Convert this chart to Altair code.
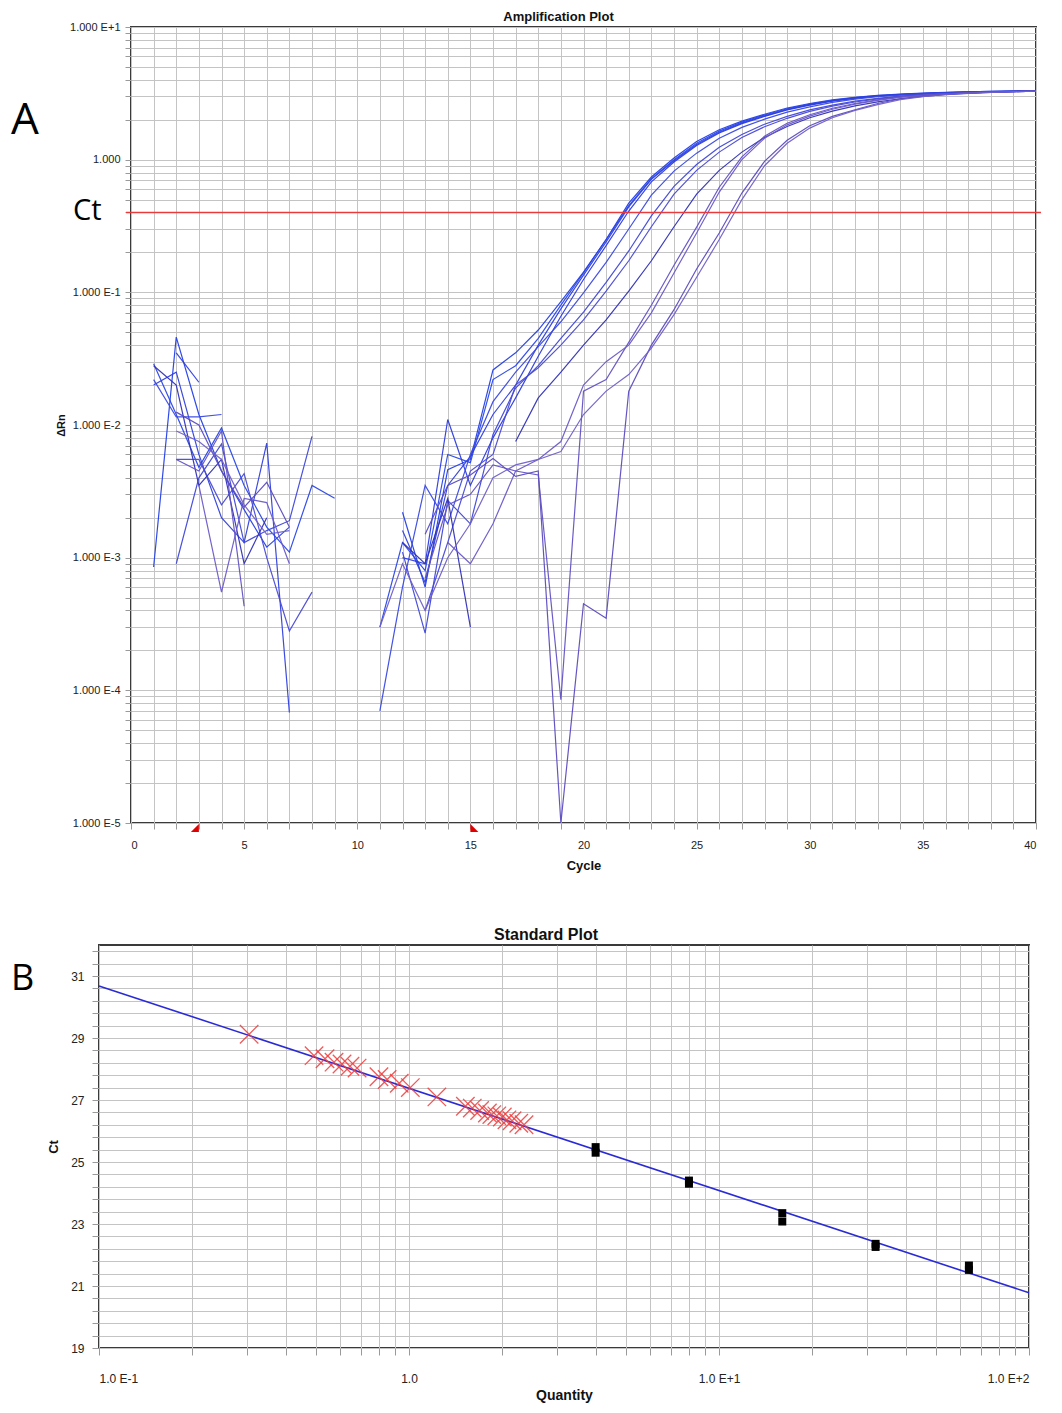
import altair as alt
import pandas as pd

# ---------------- Panel A: amplification curves (delta Rn per cycle) ----------------
cycles = list(range(1, 41))
curve_names = ["C1", "C2", "C3", "C4", "C5", "C6", "C7", "C8", "C9", "C10", "C11", "C12"]
curve_colors = ["#2440e6", "#2a48e8", "#3040dd", "#2c3ce0", "#3a4ae0", "#4048d8",
                "#4a4ad6", "#3232b8", "#6252c4", "#6a5ac8", "#5c4cc0", "#7060c8"]

C1 = [0.00085, 0.046, 0.012, 0.0045, 0.0023, 0.0012, 0.0017, None, None, None,
      None, 0.0022, 0.0006, 0.0046, 0.0055, 0.026, 0.035, 0.052, 0.085, 0.142,
      0.25, 0.47, 0.74, 1.03, 1.37, 1.68, 1.95, 2.20, 2.45, 2.65,
      2.82, 2.95, 3.05, 3.12, 3.17, 3.21, 3.24, 3.27, 3.29, 3.31]
C2 = [0.029, 0.012, 0.0048, 0.0095, 0.0035, 0.0017, 0.0011, 0.0035, 0.0028, None,
      0.0003, 0.0013, 0.0008, 0.006, 0.0052, 0.022, 0.028, 0.045, 0.080, 0.140,
      0.25, 0.45, 0.72, 1.00, 1.33, 1.64, 1.92, 2.17, 2.42, 2.62,
      2.80, 2.94, 3.04, 3.11, 3.16, 3.20, 3.24, 3.27, 3.29, 3.31]
C3 = [0.020, 0.025, 0.006, 0.002, 0.0013, 0.0073, 0.000068, None, None, None,
      None, 0.0016, 0.00065, 0.0035, 0.0058, 0.012, 0.020, 0.040, 0.075, 0.135,
      0.24, 0.44, 0.71, 0.98, 1.30, 1.61, 1.89, 2.14, 2.39, 2.60,
      2.78, 2.92, 3.02, 3.10, 3.15, 3.20, 3.23, 3.26, 3.28, 3.30]
C4 = [None, 0.035, 0.021, None, None, None, None, None, None, None,
      None, 0.0010, 0.0009, 0.011, 0.0035, 0.008, 0.016, 0.033, 0.066, 0.125,
      0.225, 0.41, 0.68, 0.96, 1.28, 1.59, 1.87, 2.12, 2.37, 2.58,
      2.76, 2.90, 3.01, 3.09, 3.15, 3.19, 3.23, 3.26, 3.28, 3.30]
C5 = [0.022, 0.0115, 0.0115, 0.012, None, None, None, None, None, None,
      0.00007, 0.0006, 0.0035, 0.0018, 0.006, 0.015, 0.025, 0.039, 0.060, 0.099,
      0.168, 0.30, 0.54, 0.82, 1.12, 1.45, 1.75, 2.02, 2.28, 2.50,
      2.70, 2.86, 2.98, 3.07, 3.13, 3.18, 3.22, 3.25, 3.28, 3.30]
C6 = [None, 0.0009, 0.004, 0.0072, 0.0013, 0.0016, 0.0019, 0.0082, None, None,
      None, 0.0011, 0.00027, 0.0027, 0.0018, 0.0085, 0.019, 0.028, 0.045, 0.071,
      0.119, 0.205, 0.377, 0.63, 0.92, 1.24, 1.55, 1.85, 2.12, 2.37,
      2.58, 2.76, 2.90, 3.01, 3.09, 3.15, 3.20, 3.24, 3.27, 3.29]
C7 = [None, 0.0055, 0.0055, 0.0025, 0.0043, 0.0010, 0.00028, 0.00055, None, None,
      None, None, 0.0004, 0.0013, 0.0045, 0.0060, 0.020, 0.027, 0.040, 0.062,
      0.102, 0.173, 0.312, 0.55, 0.83, 1.14, 1.47, 1.77, 2.05, 2.31,
      2.53, 2.72, 2.87, 2.99, 3.08, 3.14, 3.19, 3.23, 3.26, 3.29]
C8 = [0.028, 0.020, 0.0035, 0.0055, 0.0009, 0.0020, None, None, None, None,
      None, 0.0013, 0.0009, 0.0028, 0.0003, None, 0.0075, 0.016, 0.025, 0.040,
      0.062, 0.102, 0.173, 0.312, 0.55, 0.83, 1.14, 1.47, 1.78, 2.07,
      2.32, 2.54, 2.73, 2.88, 3.00, 3.09, 3.16, 3.21, 3.25, 3.28]
C9 = [None, 0.0055, 0.0045, 0.009, 0.00043, None, None, None, None, None,
      None, None, 0.0007, 0.0025, 0.0030, 0.0050, 0.0045, 0.0042, 0.000085, 0.018,
      0.022, 0.042, 0.080, 0.16, 0.31, 0.62, 1.05, 1.50, 1.88, 2.18,
      2.44, 2.65, 2.83, 2.97, 3.07, 3.14, 3.19, 3.23, 3.26, 3.28]
C10 = [None, None, 0.0035, 0.00055, 0.0028, 0.0026, 0.0009, None, None, None,
       None, None, None, 0.0013, 0.0009, 0.0018, 0.0045, 0.0055, 0.0075, 0.020,
       0.030, 0.040, 0.070, 0.14, 0.28, 0.57, 1.00, 1.45, 1.83, 2.13,
       2.40, 2.62, 2.80, 2.95, 3.06, 3.13, 3.19, 3.23, 3.26, 3.28]
C11 = [None, 0.0125, 0.010, 0.0045, 0.0024, 0.0037, 0.0017, None, None, None,
       None, None, 0.0015, 0.0035, 0.0042, 0.0056, 0.0041, 0.0045, 0.00001, 0.00045,
       0.00035, 0.018, 0.040, 0.074, 0.15, 0.28, 0.56, 0.97, 1.40, 1.80,
       2.12, 2.38, 2.65, 2.87, 3.02, 3.12, 3.19, 3.24, 3.27, 3.29]
C12 = [None, 0.009, 0.0075, 0.0055, 0.0025, 0.0015, 0.0016, None, None, None,
       0.0003, 0.0009, 0.0004, 0.0010, 0.0018, 0.0040, 0.0050, 0.0055, 0.0063, 0.012,
       0.018, 0.024, 0.038, 0.068, 0.13, 0.25, 0.50, 0.90, 1.33, 1.73,
       2.07, 2.35, 2.60, 2.83, 2.99, 3.10, 3.17, 3.22, 3.26, 3.28]
curves = [C1, C2, C3, C4, C5, C6, C7, C8, C9, C10, C11, C12]

ct_threshold = 0.4
ct_line_x = [-0.22, 40.22]
baseline_cycles = [3, 15]

# ---------------- Panel B: standard curve ----------------
unk_q = [0.305, 0.494, 0.536, 0.573, 0.608, 0.645, 0.680, 0.80, 0.85, 0.93, 1.01, 1.23,
         1.52, 1.60, 1.69, 1.79, 1.85, 1.92, 2.00, 2.07, 2.15, 2.26, 2.35]
unk_ct = [29.12, 28.43, 28.33, 28.22, 28.16, 28.09, 28.03, 27.75, 27.66, 27.54, 27.40, 27.10,
          26.80, 26.74, 26.66, 26.58, 26.53, 26.49, 26.45, 26.36, 26.33, 26.25, 26.20]
std_q = [4, 4, 8, 8, 16, 16, 32, 32, 64, 64]
std_ct = [25.30, 25.48, 24.30, 24.40, 23.08, 23.35, 22.26, 22.36, 21.52, 21.66]
fit_q = [0.1, 100]
fit_ct = [30.68, 20.78]

FONT = "Liberation Sans"

# ---- long table for curves, split into segments at gaps ----
rows = []
for name, vals in zip(curve_names, curves):
    assert len(vals) == 40
    seg = 0
    prev = None
    for c, v in zip(cycles, vals):
        if v is None:
            if prev is not None:
                seg += 1
            prev = None
            continue
        rows.append({"curve": name, "seg": f"{name}-{seg}", "cycle": c, "drn": v})
        prev = v
df_curves = pd.DataFrame(rows)

ylog_vals = []
for e in range(-5, 1):
    for k in range(1, 10):
        ylog_vals.append(float(f"{k}e{e}"))
ylog_vals.append(10.0)
ylab = ("datum.value == 10 ? '1.000 E+1' : datum.value == 1 ? '1.000' : "
        "datum.value == 0.1 ? '1.000 E-1' : datum.value == 0.01 ? '1.000 E-2' : "
        "datum.value == 0.001 ? '1.000 E-3' : datum.value == 0.0001 ? '1.000 E-4' : "
        "datum.value == 0.00001 ? '1.000 E-5' : ''")

xA = alt.X("cycle:Q", scale=alt.Scale(domain=[0, 40], nice=False),
           axis=alt.Axis(values=list(range(0, 41)), tickCount=500, labelOverlap=False,
                         labelExpr="datum.value % 5 == 0 ? datum.value : ''",
                         title="Cycle", titleFontSize=13, titleFontWeight="bold",
                         titlePadding=9, labelFontSize=11, labelPadding=10, tickSize=6))
yA = alt.Y("drn:Q", scale=alt.Scale(type="log", domain=[1e-5, 10], nice=False),
           axis=alt.Axis(values=ylog_vals, tickCount=500, labelOverlap=False, labelExpr=ylab,
                         title="ΔRn", titleFontSize=11, titleFontWeight="bold", titlePadding=3,
                         labelFontSize=11, labelPadding=5, tickSize=6))

lines = alt.Chart(df_curves).mark_line(strokeWidth=1.2, opacity=0.95).encode(
    x=xA, y=yA,
    color=alt.Color("curve:N", scale=alt.Scale(domain=curve_names, range=curve_colors), legend=None),
    detail="seg:N",
    order="cycle:Q",
)

df_ct = pd.DataFrame({"x0": [ct_line_x[0]], "x1": [ct_line_x[1]], "y": [ct_threshold]})
ct_rule = alt.Chart(df_ct).mark_rule(color="#e83c3c", strokeWidth=1.6).encode(
    x="x0:Q", x2="x1:Q", y="y:Q")

tri_s = alt.Chart(pd.DataFrame({"cycle": [baseline_cycles[0]], "drn": [1e-5]})).mark_point(
    shape="M1,-1L1,1L-1,1Z", filled=True, color="#e00000", opacity=1, size=64).encode(
    x="cycle:Q", y="drn:Q", xOffset=alt.value(-4), yOffset=alt.value(5))
tri_e = alt.Chart(pd.DataFrame({"cycle": [baseline_cycles[1]], "drn": [1e-5]})).mark_point(
    shape="M-1,-1L-1,1L1,1Z", filled=True, color="#e00000", opacity=1, size=64).encode(
    x="cycle:Q", y="drn:Q", xOffset=alt.value(4), yOffset=alt.value(5))

lab_A = alt.Chart(pd.DataFrame({"t": ["A"]})).mark_text(
    font="Open Sans", fontSize=44, align="left", baseline="middle", color="#000").encode(
    x=alt.value(-120), y=alt.value(94), text="t:N")
lab_Ct = alt.Chart(pd.DataFrame({"t": ["Ct"]})).mark_text(
    font="Open Sans", fontSize=29, align="left", baseline="middle", color="#000").encode(
    x=alt.value(-58), y=alt.value(184), text="t:N")

chartA = alt.layer(lines, ct_rule, tri_s, tri_e, lab_A, lab_Ct).properties(
    width=905, height=796,
    title=alt.TitleParams("Amplification Plot", fontSize=13, fontWeight="bold", font=FONT,
                          dx=-25, offset=-3, anchor="middle", color="#111"))

# ---------------- Panel B chart ----------------
xlog_vals = []
for e in range(-1, 2):
    for k in range(1, 10):
        xlog_vals.append(float(f"{k}e{e}"))
xlog_vals.append(100.0)
xlab = ("datum.value == 0.1 ? '1.0 E-1' : datum.value == 1 ? '1.0' : "
        "datum.value == 10 ? '1.0 E+1' : datum.value == 100 ? '1.0 E+2' : ''")
yB_vals = [round(19 + 0.4 * k, 1) for k in range(0, 33)]

xB = alt.X("q:Q", scale=alt.Scale(type="log", domain=[0.1, 100], nice=False),
           axis=alt.Axis(values=xlog_vals, tickCount=500, labelOverlap=False, labelExpr=xlab,
                         title="Quantity", titleFontSize=14, titleFontWeight="bold",
                         titlePadding=4, labelFontSize=12, labelPadding=18, tickSize=7))
yB = alt.Y("ct:Q", scale=alt.Scale(domain=[19, 32], nice=False, zero=False),
           axis=alt.Axis(values=yB_vals, tickCount=500, labelOverlap=False,
                         labelExpr="indexof([19,21,23,25,27,29,31], datum.value) >= 0 ? datum.value : ''",
                         title="Ct", titleFontSize=13, titleFontWeight="bold", titlePadding=10,
                         labelFontSize=12, labelPadding=8, tickSize=7))

fit = alt.Chart(pd.DataFrame({"q": fit_q, "ct": fit_ct})).mark_line(
    color="#2b2bd6", strokeWidth=1.6).encode(x=xB, y=yB)
unk = alt.Chart(pd.DataFrame({"q": unk_q, "ct": unk_ct})).mark_point(
    shape="M-1,-1L1,1M1,-1L-1,1", filled=False, color="#f03c3c", strokeWidth=1.3,
    size=340, opacity=0.85).encode(x="q:Q", y="ct:Q")
std = alt.Chart(pd.DataFrame({"q": std_q, "ct": std_ct})).mark_square(
    color="#000", size=64, opacity=1).encode(x="q:Q", y="ct:Q")
lab_B = alt.Chart(pd.DataFrame({"t": ["B"]})).mark_text(
    font="Open Sans", fontSize=36, align="left", baseline="middle", color="#000").encode(
    x=alt.value(-88), y=alt.value(34), text="t:N")

chartB = alt.layer(fit, unk, std, lab_B).properties(
    width=930, height=403,
    title=alt.TitleParams("Standard Plot", fontSize=16, fontWeight="bold", font=FONT,
                          dx=-18, offset=2, anchor="middle", color="#111"))


def spacer():
    return alt.Chart(pd.DataFrame({"a": [0]})).mark_point(opacity=0, size=1).encode(
        x=alt.value(0), y=alt.value(0)).properties(
        width=1, height=1, view=alt.ViewBackground(strokeOpacity=0))


rowA = alt.hconcat(spacer(), chartA, spacing=0)
rowB = alt.hconcat(spacer(), chartB, spacing=0)

chart = alt.vconcat(rowA, rowB, spacing=53).properties(
    padding={"left": 0, "top": 2, "right": 0, "bottom": 0},
    background="white",
).configure_view(stroke="#3a3a3a", strokeWidth=2).configure_axis(
    domain=False, grid=True, gridColor="#c4c4c4", gridWidth=1, tickColor="#9a9a9a",
    labelFont=FONT, titleFont=FONT, labelColor="#222", titleColor="#111",
)

chart.save("out.html", embed_options={"renderer": "svg", "actions": False})
